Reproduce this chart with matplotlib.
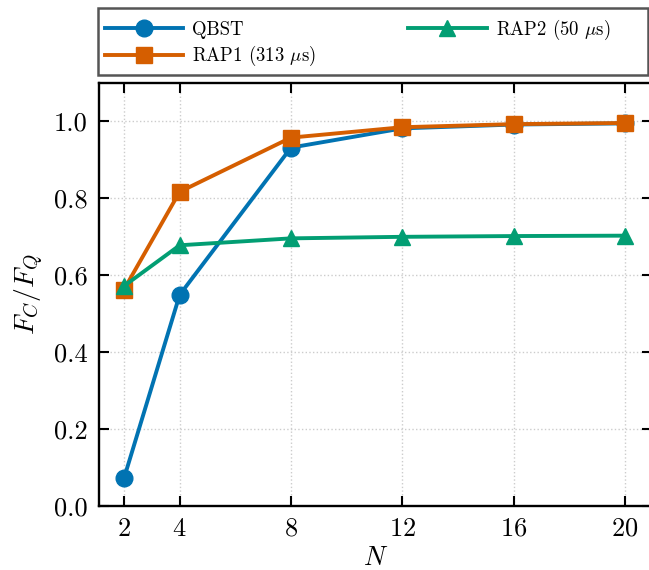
import matplotlib
matplotlib.use('Agg')
import matplotlib.pyplot as plt
from matplotlib.patches import Rectangle

plt.rcParams['font.family'] = 'serif'
plt.rcParams['font.serif'] = ['cmr10']
plt.rcParams['mathtext.fontset'] = 'cm'
plt.rcParams['axes.formatter.use_mathtext'] = True

# data
N = [2, 4, 8, 12, 16, 20]
qbst = [0.072, 0.549, 0.932, 0.982, 0.992, 0.995]
rap1 = [0.563, 0.817, 0.958, 0.985, 0.993, 0.996]
rap2 = [0.572, 0.678, 0.696, 0.700, 0.702, 0.703]
labels = ['QBST', r'RAP1 (313 $\mu$s)', r'RAP2 (50 $\mu$s)']
colors = ['#0173b2', '#d55e00', '#029e73']
markers = ['o', 's', '^']
msizes = [12, 11, 12]

fig = plt.figure(figsize=(6.49, 5.70), dpi=100)
ax = fig.add_axes([99/649, 64/570, 553/649, 423/570])

for ys, lab, c, m, s in zip([qbst, rap1, rap2], labels, colors, markers, msizes):
    ax.plot(N, ys, color=c, marker=m, lw=2.8, ms=s, label=lab)

ax.set_xlim(1.102, 20.97)
ax.set_ylim(0, 1.1)
ax.set_xticks(N)
ax.set_yticks([0.0, 0.2, 0.4, 0.6, 0.8, 1.0])
ax.set_yticklabels(['0.0', '0.2', '0.4', '0.6', '0.8', '1.0'])
ax.tick_params(direction='in', top=True, right=True, length=7.5, width=1.5,
               labelsize=19, pad=8)
ax.grid(True, ls=':', color='#cccccc', lw=1)
for sp in ax.spines.values():
    sp.set_linewidth(1.7)
ax.set_xlabel(r'$N$', fontsize=19, labelpad=4)
ax.set_ylabel(r'$F_C/F_Q$', fontsize=20, labelpad=6)

# legend box sits above the axes
fig.patches.append(Rectangle((98/649, 495/570), 550/649, 67/570,
                             transform=fig.transFigure, fill=False,
                             edgecolor='#555555', lw=1.8))
h, l = ax.get_legend_handles_labels()
fig.legend(h, l, loc='upper left', ncol=2, frameon=False,
           bbox_to_anchor=(97/649, 560/570), fontsize=13.5,
           borderaxespad=0, handlelength=4.2, handletextpad=0.48,
           columnspacing=4.9, labelspacing=0.3)

fig.savefig('out.png', dpi=100)
